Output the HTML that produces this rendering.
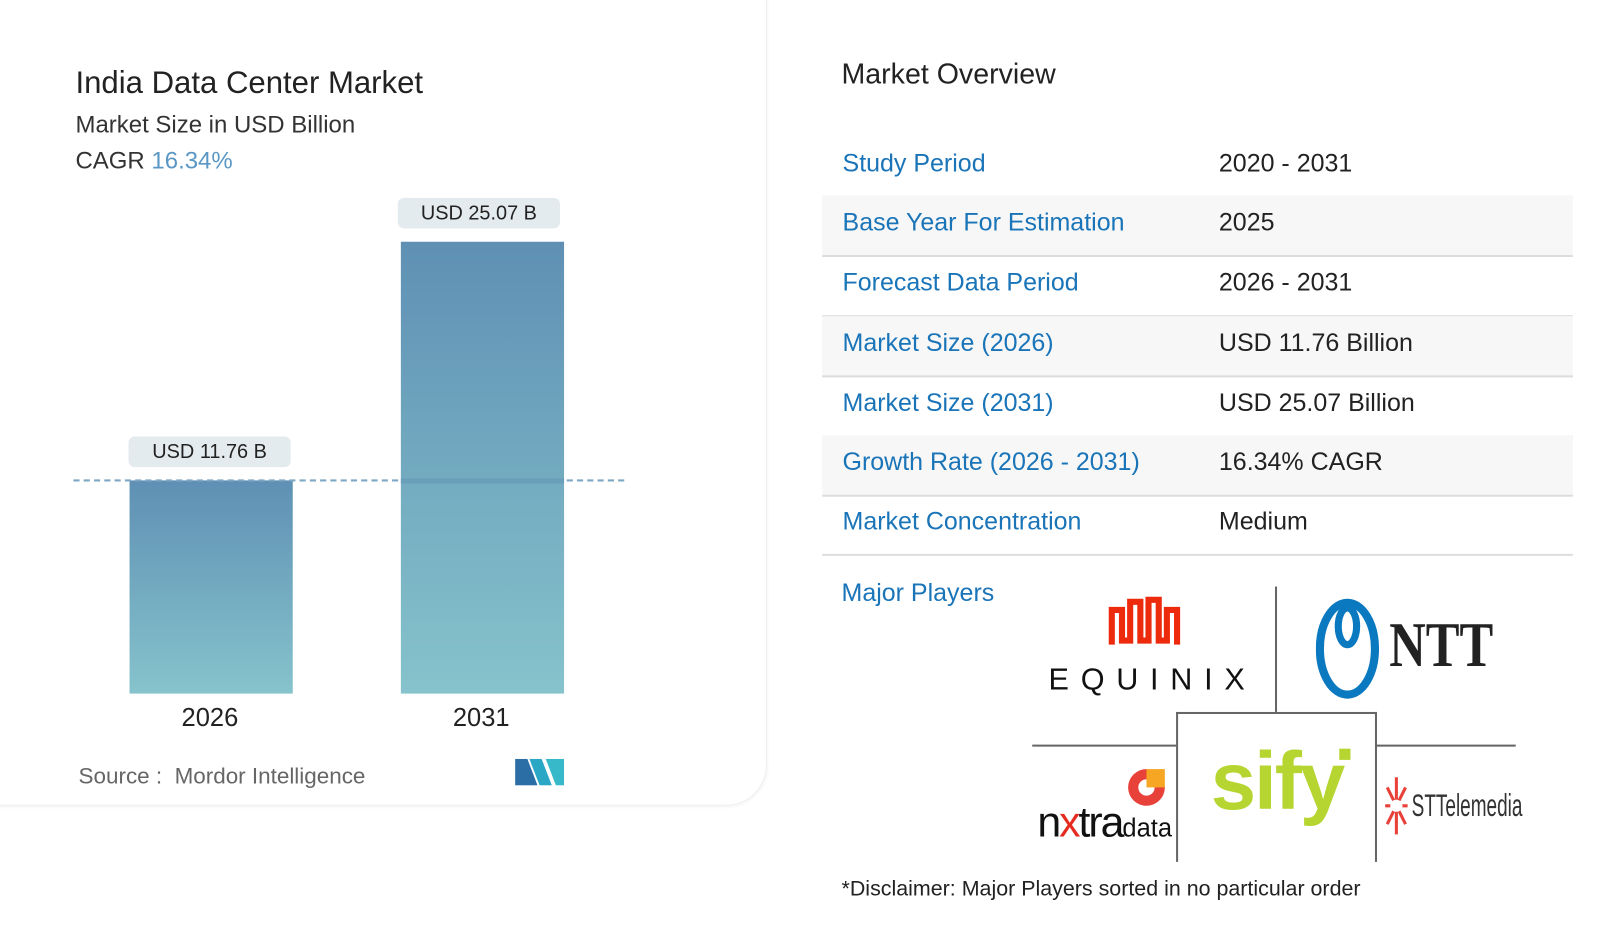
<!DOCTYPE html>
<html><head><meta charset="utf-8"><style>
body{margin:0;width:1600px;height:927px;background:#fff;font-family:"Liberation Sans",sans-serif;position:relative;overflow:hidden}
#w{position:absolute;left:0;top:0;width:1600px;height:927px;transform:scale(1.02);transform-origin:0 0}
.a{position:absolute;white-space:nowrap}
.card{position:absolute;left:-10px;top:-10px;width:760px;height:798px;border:1px solid #eee;border-radius:0 0 40px 0;box-shadow:0 1px 3px rgba(0,0,0,0.05)}
.lbl{position:absolute;background:#e4ebee;border-radius:6px;height:30px;line-height:30px;text-align:center;font-size:19.5px;color:#222}
.bar{position:absolute;background:linear-gradient(#5f90b4,#86c3cc)}
.row{position:absolute;left:806px;width:736px;height:58px;border-bottom:2px solid #ddd}
.row span{position:absolute;top:13px;font-size:24.5px}
.k{left:20px;color:#1a74b8}.v{left:389px;color:#222}
</style></head><body><div id="w">
<div class="card"></div>
<div class="a" style="left:74px;top:64px;font-size:30.5px;color:#222">India Data Center Market</div>
<div class="a" style="left:74px;top:109px;font-size:23.5px;color:#333">Market Size in USD Billion</div>
<div class="a" style="left:74px;top:144px;font-size:23.5px;color:#333">CAGR <span style="color:#5a97c4">16.34%</span></div>
<div class="bar" style="left:127px;top:471px;width:160px;height:209px"></div>
<div class="bar" style="left:393px;top:237px;width:160px;height:443px"></div>
<div class="a" style="left:72px;top:470px;width:540px;border-top:2px dashed #7ea7c4"></div>
<div class="bar" style="left:393px;top:469px;width:160px;height:5px;background:#6a9fba"></div>
<div class="lbl" style="left:126px;top:428px;width:159px">USD 11.76 B</div>
<div class="lbl" style="left:390px;top:194px;width:159px">USD 25.07 B</div>
<div class="a" style="left:178px;top:690px;font-size:25px;color:#222">2026</div>
<div class="a" style="left:444px;top:690px;font-size:25px;color:#222">2031</div>
<div class="a" style="left:77px;top:748px;font-size:22px;color:#666">Source :&nbsp; Mordor Intelligence</div>
<svg class="a" style="left:505px;top:744px" width="48" height="26"><polygon points="0,26 0,0 12,0 22,26" fill="#2b6ea6"/><polygon points="14,0 26,0 36,26 24,26" fill="#2aa7c5"/><polygon points="30,0 48,0 48,26 40,26" fill="#37b9c9"/></svg>
<div class="a" style="left:825px;top:57px;font-size:28px;color:#222">Market Overview</div>
<div class="row" style="top:134px"><span class="k">Study Period</span><span class="v">2020 - 2031</span></div>
<div class="row" style="top:192px;background:#f7f7f7"><span class="k">Base Year For Estimation</span><span class="v">2025</span></div>
<div class="row" style="top:251px"><span class="k">Forecast Data Period</span><span class="v">2026 - 2031</span></div>
<div class="row" style="top:310px;background:#f7f7f7"><span class="k">Market Size (2026)</span><span class="v">USD 11.76 Billion</span></div>
<div class="row" style="top:369px"><span class="k">Market Size (2031)</span><span class="v">USD 25.07 Billion</span></div>
<div class="row" style="top:427px;background:#f7f7f7"><span class="k">Growth Rate (2026 - 2031)</span><span class="v">16.34% CAGR</span></div>
<div class="row" style="top:485px"><span class="k">Market Concentration</span><span class="v">Medium</span></div>
<div class="a" style="left:825px;top:568px;font-size:24.5px;color:#1a74b8">Major Players</div>
<div class="a" style="left:1250px;top:575px;height:123px;border-left:2px solid #666"></div>
<div class="a" style="left:1012px;top:730px;width:474px;border-top:2px solid #666"></div>
<div class="a" style="left:1153px;top:698px;width:193px;height:145px;border:2px solid #666;border-bottom:none;background:#fff"></div>
<svg class="a" style="left:1086px;top:584px" width="80" height="55"><path d="M4,48V14h10v30h8V6h10v38h8V4h10v40h8V14h10v34" fill="none" stroke="#ee2a0c" stroke-width="6"/></svg>
<div class="a" style="left:1028px;top:650px;font-size:30px;letter-spacing:11.5px;color:#111">EQUINIX</div>
<svg class="a" style="left:1290px;top:586px" width="64" height="100"><ellipse cx="31" cy="50" rx="27" ry="45" fill="none" stroke="#0a79c0" stroke-width="8"/><ellipse cx="31" cy="28" rx="9" ry="18" fill="none" stroke="#0a79c0" stroke-width="7"/></svg>
<div class="a" style="left:1362px;top:598px;font-size:62px;font-weight:bold;font-family:'Liberation Serif',serif;color:#222;transform:scaleX(0.8);transform-origin:left">NTT</div>
<div class="a" style="left:1187px;top:720px;font-size:80px;font-weight:bold;color:#b6d531;letter-spacing:-2px">sify</div>
<div class="a" style="left:1313px;top:734px;width:11px;height:11px;background:#b6d531"></div>
<svg class="a" style="left:1102px;top:750px" width="44" height="44"><circle cx="22" cy="22" r="18" fill="#e8413a"/><circle cx="22" cy="22" r="8" fill="#fff"/><rect x="22" y="4" width="18" height="18" fill="#f6a623"/></svg>
<div class="a" style="left:1017px;top:782px;font-size:42px;color:#111;letter-spacing:-2px">n<span style="color:#e52b20">x</span>tra<span style="font-size:25px;letter-spacing:0">data</span></div>
<svg class="a" style="left:1356px;top:760px" width="26" height="60"><g stroke="#e8413a" stroke-width="3"><line x1="13" y1="2" x2="13" y2="58"/><line x1="2" y1="30" x2="24" y2="30"/><line x1="4" y1="12" x2="22" y2="48"/><line x1="22" y1="12" x2="4" y2="48"/></g><circle cx="13" cy="30" r="6" fill="#fff"/></svg>
<div class="a" style="left:1384px;top:772px;font-size:31px;color:#333;transform:scaleX(0.6);transform-origin:left">STTelemedia</div>
<div class="a" style="left:825px;top:860px;font-size:21px;color:#222">*Disclaimer: Major Players sorted in no particular order</div>
</div></body></html>
